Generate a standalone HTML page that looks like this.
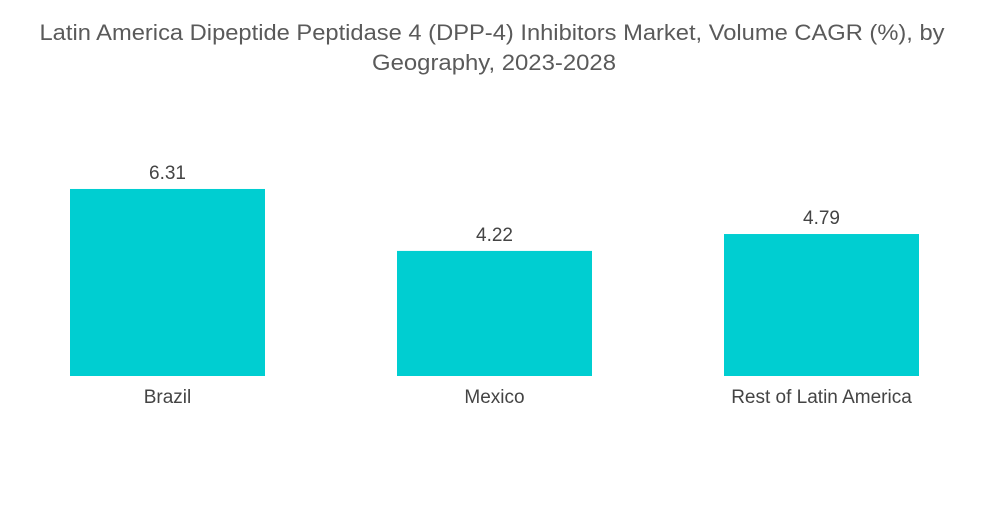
<!DOCTYPE html>
<html><head><meta charset="utf-8"><style>
body{margin:0;background:#fff;width:1000px;height:504px;overflow:hidden;font-family:"Liberation Sans",sans-serif}
</style></head><body>
<svg width="1000" height="504">
<text x="492" y="40" text-anchor="middle" font-size="22" fill="#5a5a5a" textLength="905" lengthAdjust="spacingAndGlyphs">Latin America Dipeptide Peptidase 4 (DPP-4) Inhibitors Market, Volume CAGR (%), by</text>
<text x="494" y="70" text-anchor="middle" font-size="22" fill="#5a5a5a" textLength="244" lengthAdjust="spacingAndGlyphs">Geography, 2023-2028</text>
<g id="bars"></g>
</svg>
<script>
const categories=["Brazil","Mexico","Rest of Latin America"];
const values=[6.31,4.22,4.79];
const labels=["6.31","4.22","4.79"];
const baseY=376, pxPerUnit=29.64, x0=70, step=327, bw=195;
function y(v){return baseY-v*pxPerUnit;}
const g=document.getElementById('bars');const ns='http://www.w3.org/2000/svg';
categories.forEach((c,i)=>{
 const x=x0+i*step;
 const r=document.createElementNS(ns,'rect');
 
 
 r.setAttribute('x',x);r.setAttribute('y',y(values[i]));r.setAttribute('width',bw);r.setAttribute('height',baseY-y(values[i]));r.setAttribute('fill','#00ced1');
 g.appendChild(r);
 const t=document.createElementNS(ns,'text');
 
 
 t.setAttribute('x',x+bw/2);t.setAttribute('y',y(values[i])-10);t.setAttribute('text-anchor','middle');t.setAttribute('font-size','19');t.setAttribute('fill','#444');
 t.textContent=labels[i];g.appendChild(t);
 const l=document.createElementNS(ns,'text');
 
 
 l.setAttribute('x',x+bw/2);l.setAttribute('y',403);l.setAttribute('text-anchor','middle');l.setAttribute('font-size','19');l.setAttribute('fill','#444');
 l.textContent=c;g.appendChild(l);
});
</script>
</body></html>
